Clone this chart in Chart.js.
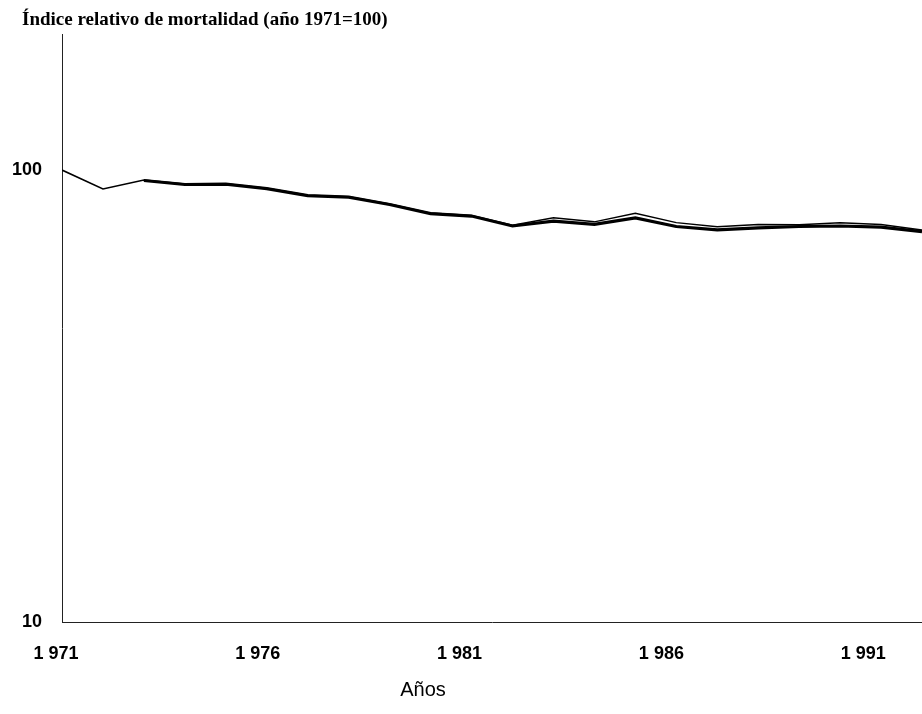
<!DOCTYPE html>
<html>
<head>
<meta charset="utf-8">
<script src="https://cdn.jsdelivr.net/npm/chart.js@4.4.1/dist/chart.umd.min.js"></script>
<style>
  body { margin: 0; background: #fff; }
  canvas { display: block; }
</style>
</head>
<body>
<canvas id="chart" width="922" height="714"></canvas>
<script>
// years of the series
const years = [1971, 1972, 1973, 1974, 1975, 1976, 1977, 1978, 1979, 1980, 1981,
  1982, 1983, 1984, 1985, 1986, 1987, 1988, 1989, 1990, 1991, 1992];

// thin line (starts at 1971 = 100)
const thinValues = [100, 90.8, 95.0, 93.1, 93.3, 91.2, 88.0, 87.3, 84.1, 80.3, 79.3,
  75.5, 78.4, 76.8, 80.2, 76.5, 74.9, 75.8, 75.7, 76.5, 75.8, 73.7];

// thick line (only from 1973)
const thickValues = [null, null, 94.8, 92.9, 93.1, 91.0, 87.8, 87.1, 83.9, 80.1, 79.1,
  75.2, 77.1, 75.8, 78.4, 75.0, 73.7, 74.5, 75.0, 75.2, 74.8, 73.1];

const xTickValues = [1971, 1976, 1981, 1986, 1991];
const xTickLabels = ["1 971", "1 976", "1 981", "1 986", "1 991"];
const yTickValues = [10, 100];

const chartTitle = "Índice relativo de mortalidad (año 1971=100)";
const xAxisTitle = "Años";

const toPoints = (vals) => years.map((yr, i) => ({ x: yr, y: vals[i] }));

// both titles sit off-centre in the original, so they are drawn by hand
const titlesPlugin = {
  id: "titles",
  afterDraw(chart) {
    const ctx = chart.ctx;
    ctx.save();
    ctx.fillStyle = "#000";
    ctx.textBaseline = "alphabetic";
    ctx.textAlign = "left";
    ctx.font = "bold 19px 'Liberation Serif', 'Times New Roman', serif";
    ctx.fillText(chartTitle, 22, 25);
    ctx.textAlign = "center";
    ctx.textBaseline = "middle";
    ctx.font = "20px 'Liberation Sans', Arial, sans-serif";
    ctx.fillText(xAxisTitle, 423, 690);
    ctx.restore();
  },
};

new Chart(document.getElementById("chart"), {
  type: "line",
  data: {
    datasets: [
      {
        data: toPoints(thinValues),
        borderColor: "#000",
        borderWidth: 1.5,
        pointRadius: 0,
        tension: 0,
        xAxisID: "x",
      },
      {
        data: toPoints(thickValues),
        borderColor: "#000",
        borderWidth: 3.2,
        pointRadius: 0,
        tension: 0,
        xAxisID: "x",
      },
    ],
  },
  options: {
    responsive: false,
    animation: false,
    layout: { padding: { left: 0, right: 0, top: 34, bottom: 0 } },
    plugins: {
      legend: { display: false },
      tooltip: { enabled: false },
      title: { display: false },
    },
    scales: {
      x: {
        type: "linear",
        display: false,
        min: 1971,
        max: 1992,
      },
      // label axis: tick labels of the original sit slightly off the data positions
      x2: {
        type: "linear",
        position: "bottom",
        min: 1971.149,
        max: 1992.457,
        grid: { display: false, drawTicks: false },
        border: { display: true, color: "#222", width: 1 },
        afterBuildTicks: (s) => {
          s.ticks = xTickValues.map((v) => ({ value: v }));
        },
        afterFit: (s) => {
          s.height = 92;
        },
        ticks: {
          autoSkip: false,
          maxRotation: 0,
          padding: 21,
          color: "#000",
          font: { family: "'Liberation Sans', Arial, sans-serif", size: 18, weight: "bold" },
          callback: (v, i) => xTickLabels[i],
        },
      },
      y: {
        type: "logarithmic",
        min: 10,
        max: 200,
        grid: { display: false, drawTicks: false },
        border: { display: true, color: "#222", width: 1 },
        afterBuildTicks: (s) => {
          s.ticks = yTickValues.map((v) => ({ value: v }));
        },
        afterFit: (s) => {
          s.width = 62;
        },
        ticks: {
          autoSkip: false,
          padding: 20,
          color: "#000",
          font: { family: "'Liberation Sans', Arial, sans-serif", size: 18, weight: "bold" },
          callback: (v) => String(v),
        },
      },
    },
  },
  plugins: [titlesPlugin],
});
</script>
</body>
</html>
